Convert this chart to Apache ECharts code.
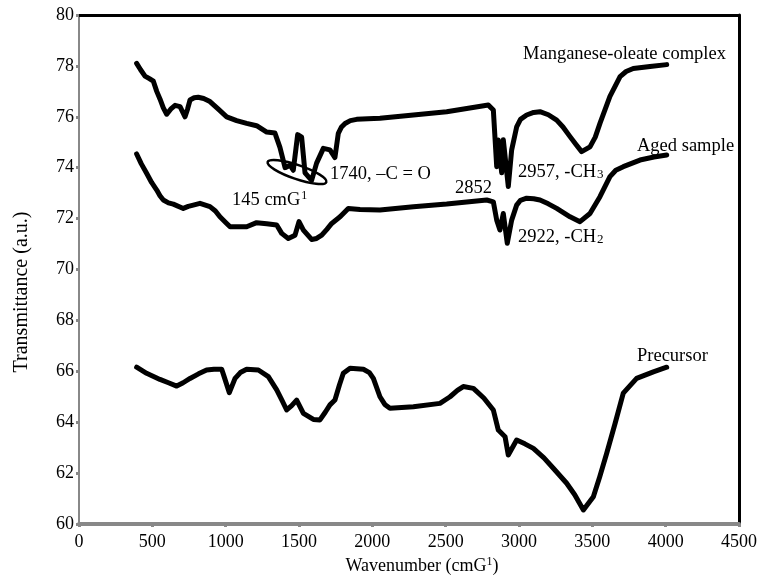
<!DOCTYPE html>
<html>
<head>
<meta charset="utf-8">
<script src="https://cdn.jsdelivr.net/npm/echarts@6/dist/echarts.min.js"></script>
<style>
  html, body { margin: 0; padding: 0; background: #fff; }
  #chart { width: 760px; height: 580px; }
</style>
</head>
<body>
<div id="chart"></div>
<script>
// wavenumber (cm-1) and transmittance
const complexX = [393, 420, 450, 480, 507, 530, 552, 575, 598, 625, 655, 689, 723, 740, 757, 785, 813, 850, 893, 950, 1007, 1075, 1143, 1211, 1280, 1336, 1370, 1405, 1439, 1461, 1491, 1518, 1541, 1586, 1620, 1666, 1711, 1745, 1768, 1790, 1814, 1850, 1893, 1970, 2052, 2280, 2507, 2791, 2825, 2848, 2859, 2882, 2893, 2927, 2950, 2984, 3010, 3052, 3100, 3143, 3200, 3257, 3300, 3348, 3390, 3427, 3484, 3520, 3552, 3620, 3689, 3730, 3779, 3893, 4007];
const complexY = [78.1, 77.85, 77.6, 77.5, 77.4, 77.0, 76.7, 76.35, 76.1, 76.3, 76.45, 76.4, 76.0, 76.3, 76.66, 76.75, 76.77, 76.72, 76.6, 76.3, 76.0, 75.85, 75.74, 75.65, 75.4, 75.36, 74.8, 74.0, 74.1, 73.9, 75.3, 75.2, 73.8, 73.5, 74.18, 74.76, 74.7, 74.4, 75.35, 75.6, 75.74, 75.85, 75.9, 75.92, 75.94, 76.07, 76.2, 76.46, 76.27, 74.04, 75.09, 73.8, 75.1, 73.26, 74.7, 75.6, 75.9, 76.07, 76.17, 76.2, 76.08, 75.87, 75.6, 75.22, 74.9, 74.63, 74.82, 75.2, 75.74, 76.8, 77.58, 77.78, 77.9, 77.98, 78.05];

const agedX = [393, 425, 461, 495, 530, 552, 575, 610, 643, 711, 745, 779, 825, 893, 930, 961, 1000, 1030, 1143, 1211, 1280, 1348, 1382, 1427, 1473, 1500, 1530, 1586, 1620, 1655, 1690, 1723, 1780, 1836, 1916, 2052, 2280, 2507, 2780, 2825, 2848, 2870, 2893, 2920, 2950, 2984, 3010, 3052, 3100, 3143, 3200, 3257, 3348, 3416, 3484, 3552, 3620, 3660, 3711, 3825, 3920, 4007];
const agedY = [74.54, 74.15, 73.78, 73.42, 73.12, 72.9, 72.73, 72.62, 72.57, 72.4, 72.48, 72.53, 72.6, 72.47, 72.3, 72.07, 71.85, 71.68, 71.68, 71.84, 71.8, 71.75, 71.42, 71.22, 71.35, 71.88, 71.55, 71.18, 71.22, 71.35, 71.58, 71.81, 72.07, 72.4, 72.36, 72.34, 72.47, 72.57, 72.73, 72.66, 71.94, 71.55, 72.2, 71.03, 71.94, 72.53, 72.72, 72.8, 72.78, 72.73, 72.58, 72.4, 72.07, 71.88, 72.2, 72.86, 73.65, 73.9, 74.04, 74.3, 74.42, 74.5];

const precursorX = [393, 461, 552, 610, 666, 710, 757, 815, 870, 920, 973, 989, 1025, 1064, 1100, 1143, 1223, 1291, 1348, 1385, 1416, 1450, 1484, 1530, 1598, 1643, 1680, 1711, 1745, 1775, 1802, 1848, 1939, 1980, 2007, 2052, 2085, 2120, 2280, 2461, 2530, 2580, 2620, 2689, 2760, 2825, 2859, 2905, 2927, 2984, 3040, 3098, 3170, 3234, 3325, 3380, 3439, 3507, 3550, 3598, 3655, 3711, 3802, 3916, 4007];
const precursorY = [66.16, 65.92, 65.68, 65.55, 65.42, 65.55, 65.72, 65.9, 66.05, 66.08, 66.08, 65.8, 65.16, 65.72, 65.95, 66.08, 66.05, 65.79, 65.27, 64.85, 64.48, 64.65, 64.87, 64.35, 64.11, 64.09, 64.4, 64.68, 64.87, 65.45, 65.92, 66.12, 66.08, 65.95, 65.72, 65.0, 64.7, 64.55, 64.61, 64.74, 65.0, 65.25, 65.4, 65.33, 64.95, 64.48, 63.69, 63.43, 62.71, 63.3, 63.15, 62.97, 62.6, 62.19, 61.6, 61.15, 60.55, 61.07, 61.85, 62.78, 63.95, 65.14, 65.72, 65.98, 66.16];

const FONT = "Liberation Serif";
const TXT = 18.5;

function pairs(xs, ys) {
  return xs.map((x, i) => [x, ys[i]]);
}

function lineSeries(name, xs, ys) {
  return {
    name: name,
    type: "line",
    data: pairs(xs, ys),
    symbol: "none",
    smooth: false,
    lineStyle: { color: "#000", width: 5, join: "round", cap: "round" },
    itemStyle: { color: "#000" },
    animation: false,
  };
}

function label(text, left, top) {
  return { type: "text", left: left, top: top, style: { text: text, font: TXT + "px " + FONT, fill: "#000" } };
}

// text with a raised or lowered small part, e.g. cm-1 or CH3
function richLabel(main, small, left, top, raised) {
  return {
    type: "text", left: left, top: top,
    style: {
      text: "{a|" + main + "}{s|" + small + "}",
      rich: {
        a: { fontFamily: FONT, fontSize: TXT, fill: "#000" },
        s: raised
          ? { fontFamily: FONT, fontSize: 12, fill: "#000", verticalAlign: "top", padding: [0, 0, 9, 1] }
          : { fontFamily: FONT, fontSize: 13, fill: "#000", padding: [5, 0, 0, 1] },
      },
    },
  };
}

var myChart = echarts.init(document.getElementById("chart"));
var option = {
  backgroundColor: "#fff",
  animation: false,
  grid: { left: 79, right: 21, top: 15, bottom: 56, containLabel: false },
  xAxis: [
    {
      type: "value",
      min: 0,
      max: 4500,
      interval: 500,
      splitLine: { show: false },
      axisLine: { onZero: false, lineStyle: { color: "#888", width: 4 } },
      axisTick: { length: 3, lineStyle: { color: "#888", width: 3 } },
      axisLabel: { fontFamily: FONT, fontSize: 18, color: "#000", margin: 9, formatter: (v) => String(v) },
    },
    {
      type: "value",
      position: "top",
      min: 0,
      max: 4500,
      axisLine: { show: true, onZero: false, lineStyle: { color: "#000", width: 3 } },
      axisTick: { show: false },
      axisLabel: { show: false },
      splitLine: { show: false },
    },
  ],
  yAxis: [
    {
      type: "value",
      min: 60,
      max: 80,
      interval: 2,
      splitLine: { show: false },
      axisLine: { show: true, onZero: false, lineStyle: { color: "#888", width: 2 } },
      axisTick: { length: 3, lineStyle: { color: "#888", width: 3 } },
      axisLabel: { fontFamily: FONT, fontSize: 18, color: "#000", margin: 5 },
    },
    {
      type: "value",
      position: "right",
      min: 60,
      max: 80,
      axisLine: { show: true, onZero: false, lineStyle: { color: "#000", width: 3 } },
      axisTick: { show: false },
      axisLabel: { show: false },
      splitLine: { show: false },
    },
  ],
  series: [
    lineSeries("Manganese-oleate complex", complexX, complexY),
    lineSeries("Aged sample", agedX, agedY),
    lineSeries("Precursor", precursorX, precursorY),
  ],
  graphic: [
    // axis titles sit a little off the plot centre in the original
    {
      type: "text", x: 22, y: 292, rotation: Math.PI / 2,
      style: { text: "Transmittance (a.u.)", font: "20px " + FONT, fill: "#000", align: "center", verticalAlign: "middle" },
    },
    {
      type: "text", x: 422, y: 566,
      style: {
        text: "{a|Wavenumber (cmG}{s|1}{a|)}", align: "center", verticalAlign: "middle",
        rich: {
          a: { fontFamily: FONT, fontSize: 18, fill: "#000" },
          s: { fontFamily: FONT, fontSize: 12, fill: "#000", verticalAlign: "top", padding: [0, 0, 9, 0] },
        },
      },
    },
    label("Manganese-oleate complex", 523, 45),
    label("Aged sample", 637, 137),
    label("Precursor", 637, 347),
    label("1740, \u2013C = O", 330, 165),
    richLabel("145 cmG", "1", 232, 190, true),
    label("2852", 455, 179),
    richLabel("2957, -CH", "3", 518, 163, false),
    richLabel("2922, -CH", "2", 518, 228, false),
    {
      type: "ellipse",
      shape: { cx: 0, cy: 0, rx: 31, ry: 7 },
      x: 297, y: 172,
      rotation: -0.33,
      style: { fill: "none", stroke: "#000", lineWidth: 2.5 },
    },
  ],
};
myChart.setOption(option);
</script>
</body>
</html>
